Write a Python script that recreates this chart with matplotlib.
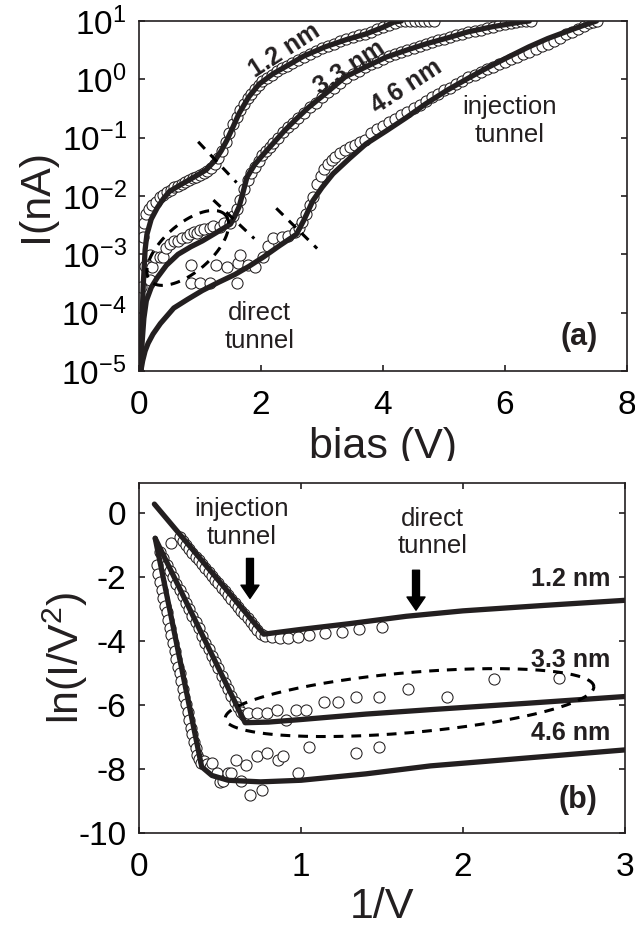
import numpy as np
import matplotlib
matplotlib.use("Agg")
import matplotlib.pyplot as plt
import matplotlib.patches as patches

plt.rcParams['font.family'] = ['Liberation Sans', 'DejaVu Sans']
plt.rcParams['mathtext.fontset'] = 'custom'
plt.rcParams['mathtext.rm'] = 'Liberation Sans'
plt.rcParams['mathtext.bf'] = 'Liberation Sans:bold'
plt.rcParams['axes.unicode_minus'] = False

ink = '#231f20'

# ---- panel (a): I-V, fitted curves ----
fit12_v = [0.03, 0.05, 0.07, 0.10, 0.13, 0.2, 0.3, 0.4, 0.5, 0.7, 0.9, 1.1, 1.24, 1.35, 1.44,
           1.55, 1.64, 1.8, 1.97, 2.2, 2.38, 2.7, 3.05, 3.4, 3.72, 4.0, 4.18, 4.3]
fit12_i = [1e-5, 8e-5, 3e-4, 1.2e-3, 2.2e-3, 4e-3, 6.3e-3, 9e-3, 1.2e-2, 1.6e-2, 2.1e-2, 2.8e-2,
           4e-2, 6e-2, 9e-2, 0.16, 0.26, 0.5, 0.83, 1.25, 1.6, 2.5, 3.6, 4.8, 6, 7.8, 9.6, 10]
fit33_v = [0.03, 0.05, 0.08, 0.12, 0.2, 0.3, 0.45, 0.64, 0.85, 1.04, 1.25, 1.5, 1.57, 1.64, 1.7,
           1.77, 1.9, 2.04, 2.2, 2.38, 2.58, 2.78, 3.1, 3.38, 3.7, 4.05, 4.4, 4.72, 5.05, 5.39,
           5.8, 6.26, 6.4]
fit33_i = [1e-5, 3e-5, 8e-5, 1.6e-4, 2.7e-4, 4e-4, 6.5e-4, 1e-3, 1.35e-3, 1.7e-3, 2.3e-3, 3.3e-3,
           4.5e-3, 6.5e-3, 1.1e-2, 2.1e-2, 3.5e-2, 5.2e-2, 8e-2, 0.13, 0.21, 0.33, 0.62, 1.1, 1.6,
           2.4, 3.2, 4.1, 5.1, 6.5, 8, 9.6, 10]
fit46_v = [0.03, 0.06, 0.1, 0.15, 0.23, 0.35, 0.57, 0.8, 1.04, 1.3, 1.57, 1.8, 2.04, 2.3, 2.58,
           2.7, 2.85, 3.0, 3.18, 3.45, 3.72, 4.05, 4.38, 4.7, 5.05, 5.4, 5.72, 6.05, 6.39, 6.7,
           7.06, 7.3, 7.5]
fit46_i = [1e-5, 1.5e-5, 2.2e-5, 3e-5, 4.3e-5, 6.5e-5, 1.2e-4, 1.7e-4, 2.4e-4, 3.3e-4, 4.5e-4,
           6.2e-4, 9e-4, 1.4e-3, 2.2e-3, 3.8e-3, 8.3e-3, 1.4e-2, 2.4e-2, 4.4e-2, 7.8e-2, 0.13,
           0.22, 0.38, 0.65, 1.05, 1.6, 2.4, 3.6, 5.0, 6.9, 8.5, 10]

# ---- panel (a): measured points ----
meas12_v = [0.07, 0.08, 0.12, 0.17, 0.22, 0.28, 0.34, 0.40, 0.46, 0.52, 0.58, 0.64, 0.70, 0.76,
            0.82, 0.88, 0.94, 1.00, 1.06, 1.12, 1.18, 1.24, 1.30, 1.36, 1.42, 1.48, 1.54, 1.60,
            1.66, 1.72, 1.78, 1.84, 1.90, 1.96, 2.02, 2.10, 2.18, 2.26, 2.34, 2.42, 2.50, 2.60,
            2.70, 2.80, 2.90, 3.00, 3.10, 3.20, 3.30, 3.40, 3.50, 3.60, 3.70, 3.80, 3.90, 4.00,
            4.10, 4.20, 4.28, 4.36, 4.44, 4.52, 4.60, 4.68, 4.76, 4.84]
meas12_i = [2e-3, 3.5e-3, 5e-3, 6e-3, 7e-3, 8e-3, 9.5e-3, 1.05e-2, 1.15e-2, 1.25e-2, 1.4e-2,
            1.5e-2, 1.6e-2, 1.75e-2, 1.85e-2, 2e-2, 2.15e-2, 2.3e-2, 2.5e-2, 2.7e-2, 3e-2, 3.5e-2,
            4.5e-2, 6e-2, 8.5e-2, 0.12, 0.17, 0.23, 0.3, 0.38, 0.47, 0.57, 0.68, 0.8, 0.92, 1.05,
            1.2, 1.38, 1.55, 1.72, 1.9, 2.15, 2.45, 2.75, 3.05, 3.4, 3.75, 4.1, 4.5, 4.9, 5.3, 5.7,
            6.1, 6.6, 7.2, 7.9, 8.6, 9.4, 9.9, 10, 10, 10, 10, 10, 10, 10]
meas33_v = [0.10, 0.18, 0.21, 0.26, 0.34, 0.40, 0.45, 0.50, 0.58, 0.64, 0.70, 0.78, 0.84, 0.90,
            0.95, 1.00, 1.06, 1.16, 1.22, 1.33, 1.40, 1.49, 1.54, 1.60, 1.66, 1.72, 1.78, 1.84,
            1.90, 1.96, 2.02, 2.08, 2.14, 2.20, 2.28, 2.36, 2.44, 2.52, 2.60, 2.70, 2.80, 2.90,
            3.00, 3.10, 3.20, 3.30, 3.40, 3.50, 3.60, 3.70, 3.80, 3.90, 4.00, 4.10, 4.20, 4.30,
            4.40, 4.50, 4.60, 4.70, 4.80, 4.90, 5.00, 5.10, 5.20, 5.30, 5.40, 5.50, 5.60, 5.70,
            5.80, 5.90, 6.00, 6.10, 6.18, 6.26, 6.34, 6.42]
meas33_i = [6.2e-4, 9.8e-4, 6e-4, 9e-4, 9e-4, 9e-4, 1.26e-3, 1.5e-3, 1.7e-3, 1.66e-3, 1.9e-3,
            2e-3, 2.2e-3, 2.4e-3, 2.3e-3, 2.6e-3, 2.7e-3, 2.8e-3, 3.1e-3, 3e-3, 3.5e-3, 3.4e-3,
            4.5e-3, 6e-3, 8.5e-3, 1.3e-2, 1.9e-2, 2.5e-2, 3.2e-2, 4e-2, 5e-2, 6e-2, 7e-2, 8.2e-2,
            0.1, 0.125, 0.15, 0.18, 0.22, 0.27, 0.33, 0.4, 0.5, 0.6, 0.72, 0.88, 1.05, 1.22, 1.4,
            1.6, 1.8, 2.0, 2.25, 2.5, 2.7, 2.95, 3.2, 3.45, 3.75, 4.05, 4.35, 4.65, 4.95, 5.3,
            5.65, 6.0, 6.4, 6.8, 7.1, 7.5, 7.9, 8.4, 8.9, 9.4, 9.8, 10, 10, 10]
meas46_v = [0.04, 0.18, 0.86, 0.86, 1.00, 1.16, 1.27, 1.44, 1.60, 1.63, 1.66, 1.79, 1.90, 2.04,
            2.12, 2.20, 2.34, 2.45, 2.55, 2.62, 2.68, 2.74, 2.80, 2.86, 2.92, 2.98, 3.04, 3.10,
            3.16, 3.22, 3.30, 3.38, 3.46, 3.54, 3.62, 3.70, 3.80, 3.90, 4.00, 4.10, 4.20, 4.30,
            4.40, 4.50, 4.60, 4.70, 4.80, 4.90, 5.00, 5.10, 5.20, 5.30, 5.40, 5.50, 5.60, 5.70,
            5.80, 5.90, 6.00, 6.10, 6.20, 6.30, 6.40, 6.50, 6.60, 6.70, 6.80, 6.90, 7.00, 7.10,
            7.20, 7.30, 7.38, 7.44, 7.50]
meas46_i = [2.8e-4, 3.6e-4, 3.2e-4, 6.6e-4, 3.2e-4, 3.2e-4, 6.6e-4, 6e-4, 3.2e-4, 7e-4, 9.8e-4,
            6.6e-4, 6e-4, 9e-4, 1.4e-3, 1.9e-3, 2e-3, 2.1e-3, 2.4e-3, 2.8e-3, 3.6e-3, 5e-3, 7e-3,
            9.5e-3, 1.6e-2, 2.2e-2, 2.9e-2, 3.5e-2, 4.1e-2, 4.7e-2, 5.4e-2, 6.1e-2, 6.8e-2,
            7.6e-2, 8.4e-2, 9.2e-2, 0.12, 0.14, 0.16, 0.185, 0.21, 0.24, 0.28, 0.32, 0.37, 0.43,
            0.5, 0.57, 0.65, 0.72, 0.83, 0.95, 1.08, 1.2, 1.35, 1.5, 1.65, 1.8, 2.0, 2.2, 2.45,
            2.7, 3.0, 3.35, 3.7, 4.1, 4.6, 5.2, 5.9, 6.6, 7.4, 8.3, 9.2, 9.8, 10]

# ---- panel (b): ln(I/V^2) vs 1/V, fitted curves ----
fn12_x = [0.095, 0.77, 1.0, 1.3, 1.65, 2.0, 2.5, 3.0]
fn12_y = [0.29, -3.78, -3.63, -3.45, -3.22, -3.05, -2.88, -2.72]
fn33_x = [0.1, 0.655, 0.8, 1.0, 1.4, 1.8, 2.4, 3.0]
fn33_y = [-0.78, -6.55, -6.53, -6.45, -6.28, -6.14, -5.94, -5.73]
fn46_x = [0.1, 0.387, 0.45, 0.55, 0.75, 1.0, 1.4, 1.8, 2.4, 3.0]
fn46_y = [-0.78, -7.93, -8.2, -8.35, -8.4, -8.35, -8.15, -7.9, -7.65, -7.4]

# ---- panel (b): measured points ----
pts12_x = [0.20, 0.25, 0.27, 0.29, 0.31, 0.33, 0.35, 0.37, 0.39, 0.41, 0.43, 0.45, 0.47, 0.49,
           0.51, 0.53, 0.55, 0.57, 0.59, 0.61, 0.63, 0.65, 0.67, 0.69, 0.71, 0.73, 0.75, 0.78,
           0.82, 0.87, 0.92, 0.98, 1.05, 1.15, 1.25, 1.36, 1.50]
pts12_y = [-0.93, -0.74, -0.86, -0.98, -1.11, -1.23, -1.35, -1.47, -1.59, -1.71, -1.83, -1.95,
           -2.07, -2.19, -2.32, -2.44, -2.56, -2.68, -2.8, -2.92, -3.04, -3.16, -3.28, -3.4,
           -3.52, -3.64, -3.76, -3.85, -3.88, -3.9, -3.9, -3.87, -3.8, -3.73, -3.7, -3.63, -3.55]
pts33_x = [0.13, 0.15, 0.17, 0.19, 0.21, 0.23, 0.25, 0.27, 0.29, 0.31, 0.33, 0.35, 0.37, 0.39,
           0.41, 0.43, 0.45, 0.47, 0.49, 0.51, 0.53, 0.55, 0.57, 0.59, 0.61, 0.63, 0.65, 0.675,
           0.73, 0.79, 0.85, 0.91, 0.97, 1.03, 1.14, 1.23, 1.34, 1.48, 1.66, 1.9, 2.19, 2.59]
pts33_y = [-1.2, -1.4, -1.6, -1.8, -2.0, -2.2, -2.4, -2.6, -2.8, -3.0, -3.2, -3.4, -3.6, -3.85,
           -4.05, -4.25, -4.45, -4.65, -4.85, -5.1, -5.3, -5.5, -5.7, -5.9, -6.05, -6.2, -6.3,
           -6.26, -6.26, -6.26, -6.16, -6.47, -6.16, -6.16, -5.9, -5.9, -5.74, -5.74, -5.48,
           -5.74, -5.19, -5.14]
pts46_x = [0.11, 0.12, 0.13, 0.14, 0.15, 0.16, 0.17, 0.18, 0.19, 0.20, 0.21, 0.22, 0.23, 0.24,
           0.25, 0.26, 0.27, 0.28, 0.29, 0.30, 0.31, 0.32, 0.33, 0.34, 0.35, 0.36, 0.37, 0.38,
           0.40, 0.42, 0.44, 0.45, 0.48, 0.50, 0.52, 0.55, 0.57, 0.60, 0.63, 0.66, 0.685, 0.73,
           0.757, 0.79, 0.86, 0.89, 0.98, 1.05, 1.34, 1.48]
pts46_y = [-1.6, -1.9, -2.15, -2.4, -2.65, -2.9, -3.1, -3.35, -3.6, -3.8, -4.05, -4.3, -4.55,
           -4.8, -5.0, -5.25, -5.5, -5.75, -5.95, -6.2, -6.45, -6.7, -6.9, -7.15, -7.35, -7.55,
           -7.7, -7.8, -7.75, -7.85, -7.95, -7.82, -8.12, -8.4, -8.38, -8.13, -8.12, -7.72,
           -8.38, -7.86, -8.81, -7.6, -8.66, -7.5, -7.73, -7.6, -8.13, -7.3, -7.5, -7.3]

fig = plt.figure(figsize=(6.35, 9.27), dpi=100)
ax1 = fig.add_axes([139 / 635, (927 - 371) / 927, 488 / 635, 350 / 927])
ax2 = fig.add_axes([139 / 635, (927 - 833) / 927, 486 / 635, 350 / 927])

mk = dict(ls='none', marker='o', ms=8, mfc='white', mec=ink, mew=0.75, zorder=2)
ln = dict(color=ink, lw=3.8, solid_capstyle='round', zorder=3)
dash = dict(color='black', lw=2.2, dashes=(3.2, 2.6), zorder=4)


def style(ax, top):
    for s in ax.spines.values():
        s.set_linewidth(1.2)
        s.set_color(ink)
    ax.tick_params(direction='in', length=4.5, width=1.2, color=ink, labelsize=24,
                   right=True, top=top)
    ax.tick_params(axis='x', pad=14)
    ax.tick_params(axis='y', pad=9)


def dashed_ellipse(ax, cx, cy, a, b, ang):
    # a, b in pixels, angle in degrees, centre in data coords
    t = np.linspace(0, 2 * np.pi, 300)
    r = np.deg2rad(ang)
    dx = a * np.cos(t) * np.cos(r) - b * np.sin(t) * np.sin(r)
    dy = a * np.cos(t) * np.sin(r) + b * np.sin(t) * np.cos(r)
    c = ax.transData.transform((cx, cy))
    xy = ax.transData.inverted().transform(np.column_stack([c[0] + dx, c[1] + dy]))
    ax.plot(xy[:, 0], xy[:, 1], **dash)


# panel (a)
ax1.set_yscale('log')
ax1.set_xlim(0, 8)
ax1.set_ylim(1e-5, 1e1)
ax1.set_xticks([0, 2, 4, 6, 8])
ax1.set_yticks([1e-5, 1e-4, 1e-3, 1e-2, 1e-1, 1e0, 1e1])
ax1.yaxis.set_minor_locator(matplotlib.ticker.NullLocator())
style(ax1, False)

ax1.plot(meas12_v, meas12_i, **mk)
ax1.plot(meas33_v, meas33_i, **mk)
ax1.plot(meas46_v, meas46_i, **mk)
ax1.plot(fit12_v, fit12_i, **ln)
ax1.plot(fit33_v, fit33_i, **ln)
ax1.plot(fit46_v, fit46_i, **ln)

ax1.plot([0.97, 1.6], [10 ** -1.07, 10 ** -1.77], **dash)
ax1.plot([1.22, 1.89], [10 ** -2.07, 10 ** -2.73], **dash)
ax1.plot([2.25, 2.92], [10 ** -2.21, 10 ** -2.9], **dash)
dashed_ellipse(ax1, 0.8, 10 ** -2.89, 50, 24, 41)

ax1.text(2.39, 10 ** 0.50, '1.2 nm', rotation=33, fontsize=18, fontweight='bold',
         ha='center', va='center', color=ink, zorder=5)
ax1.text(3.45, 10 ** 0.21, '3.3 nm', rotation=33, fontsize=18, fontweight='bold',
         ha='center', va='center', color=ink, zorder=5)
ax1.text(4.38, 10 ** -0.13, '4.6 nm', rotation=33, fontsize=18, fontweight='bold',
         ha='center', va='center', color=ink, zorder=5)
ax1.text(6.08, 10 ** -0.72, 'injection\ntunnel', fontsize=18.5, ha='center', va='center',
         color=ink)
ax1.text(1.98, 10 ** -4.24, 'direct\ntunnel', fontsize=18.5, ha='center', va='center',
         color=ink)
ax1.text(7.52, 10 ** -4.41, '(a)', fontsize=22, fontweight='bold', ha='right', va='center',
         color=ink)

ax1.set_xlabel('bias (V)', fontsize=31, color=ink)
ax1.set_ylabel('I(nA)', fontsize=31, color=ink)
ax1.xaxis.set_label_coords(0.5, -0.16)
ax1.yaxis.set_label_coords(-0.17, 0.5)

# panel (b)
ax2.set_xlim(0, 3)
ax2.set_ylim(-10, 0.95)
ax2.set_xticks([0, 1, 2, 3])
ax2.set_yticks([-10, -8, -6, -4, -2, 0])
style(ax2, True)

ax2.plot(pts12_x, pts12_y, **mk)
ax2.plot(pts33_x, pts33_y, **mk)
ax2.plot(pts46_x, pts46_y, **mk)
ax2.plot(fn12_x, fn12_y, **ln)
ax2.plot(fn33_x, fn33_y, **ln)
ax2.plot(fn46_x, fn46_y, **ln)

dashed_ellipse(ax2, 1.67, -5.92, 185, 30, 5)

arrow = dict(facecolor='black', edgecolor='black', width=5, headwidth=13, headlength=9.5,
             shrink=0)
ax2.annotate('', xy=(0.685, -2.66), xytext=(0.685, -1.41), arrowprops=arrow, zorder=5)
ax2.annotate('', xy=(1.71, -3.03), xytext=(1.71, -1.78), arrowprops=arrow, zorder=5)

ax2.text(0.634, -0.29, 'injection\ntunnel', fontsize=18.5, ha='center', va='center',
         color=ink)
ax2.text(1.81, -0.60, 'direct\ntunnel', fontsize=18.5, ha='center', va='center', color=ink)
ax2.text(2.91, -2.04, '1.2 nm', fontsize=18, fontweight='bold', ha='right', va='center',
         color=ink)
ax2.text(2.91, -4.6, '3.3 nm', fontsize=18, fontweight='bold', ha='right', va='center',
         color=ink)
ax2.text(2.91, -6.88, '4.6 nm', fontsize=18, fontweight='bold', ha='right', va='center',
         color=ink)
ax2.text(2.83, -8.97, '(b)', fontsize=22, fontweight='bold', ha='right', va='center',
         color=ink)

ax2.set_xlabel('1/V', fontsize=31, color=ink)
ax2.set_ylabel('ln(I/V$^2$)', fontsize=31, color=ink)
ax2.xaxis.set_label_coords(0.5, -0.155)
ax2.yaxis.set_label_coords(-0.10, 0.5)

# the original crops the lower edge of "bias (V)"
fig.add_artist(patches.Rectangle((0, (927 - 482) / 927), 1, 21 / 927,
                                 transform=fig.transFigure, facecolor='white',
                                 edgecolor='none', zorder=10))

fig.savefig('out.png', dpi=100)
